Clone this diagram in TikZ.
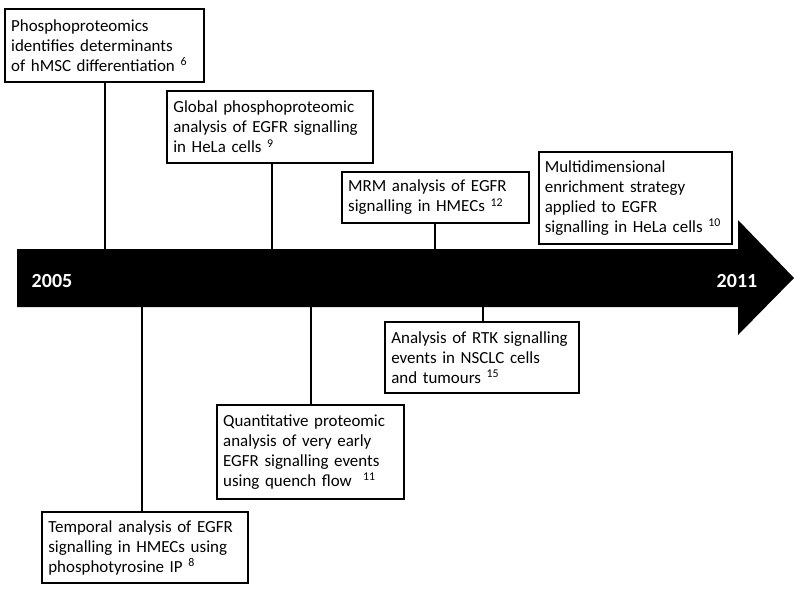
\documentclass[tikz,border=0pt]{standalone}
\usepackage{fontspec}
\setmainfont{Carlito}
\usetikzlibrary{positioning}
\hyphenpenalty=10000

\tikzset{
    evbox/.style={draw, line width=1.3pt, align=left, inner xsep=4.5pt, inner ysep=3pt,
        font=\fontsize{12.7}{15}\selectfont},
    stem/.style={line width=1.3pt},
    year/.style={text=white, font=\fontsize{15}{17}\selectfont\bfseries}
}

\begin{document}
\begin{tikzpicture}[x=0.75pt,y=-0.75pt]
    \useasboundingbox (0,0) rectangle (800,594);
    % time arrow
    \fill[black] (17,249) -- (738,249) -- (738,220) -- (794,278)
        -- (738,335) -- (738,307) -- (17,307) -- cycle;
    \coordinate (top) at (0,249);
    \coordinate (bot) at (0,307);
    \node[year] (y1) at (52,281) {2005};
    \node[year] (y2) at (737,281) {2011};
    % above the arrow
    \node[evbox, minimum width=149pt, minimum height=55pt, text width=140pt]
        (hmsc) at (104.5,45.5) {Phosphoproteomics\\identifies determinants\\of hMSC differentiation \textsuperscript{6}};
    \node[evbox, minimum width=154pt, minimum height=54pt, text width=145pt]
        (hela) at (270,127) {Global phosphoproteomic\\analysis of EGFR signalling\\in HeLa cells \textsuperscript{9}};
    \node[evbox, minimum width=140pt, minimum height=38pt, text width=131pt]
        (mrm) at (435.5,197.5) {MRM analysis of EGFR\\signalling in HMECs \textsuperscript{12}};
    \node[evbox, minimum width=145pt, minimum height=69pt, text width=136pt]
        (multi) at (635.5,198) {Multidimensional\\enrichment strategy\\applied to EGFR\\signalling in HeLa cells \textsuperscript{10}};
    % below the arrow
    \node[evbox, minimum width=145pt, minimum height=53pt, text width=136pt]
        (rtk) at (482,357.5) {Analysis of RTK signalling\\events in NSCLC cells\\and tumours \textsuperscript{15}};
    \node[evbox, minimum width=140pt, minimum height=70pt, text width=131pt]
        (quench) at (310.5,452) {Quantitative proteomic\\analysis of very early\\EGFR signalling events\\using quench flow \ \textsuperscript{11}};
    \node[evbox, minimum width=154pt, minimum height=53pt, text width=145pt]
        (ptyr) at (145,547.5) {Temporal analysis of EGFR\\signalling in HMECs using\\phosphotyrosine IP \textsuperscript{8}};
    % stems
    \draw[stem] (105,0 |- hmsc.south) -- (105,0 |- top);
    \draw[stem] (272,0 |- hela.south) -- (272,0 |- top);
    \draw[stem] (435,0 |- mrm.south) -- (435,0 |- top);
    \draw[stem] (483,0 |- rtk.north) -- (483,0 |- bot);
    \draw[stem] (311,0 |- quench.north) -- (311,0 |- bot);
    \draw[stem] (142,0 |- ptyr.north) -- (142,0 |- bot);
\end{tikzpicture}
\end{document}
